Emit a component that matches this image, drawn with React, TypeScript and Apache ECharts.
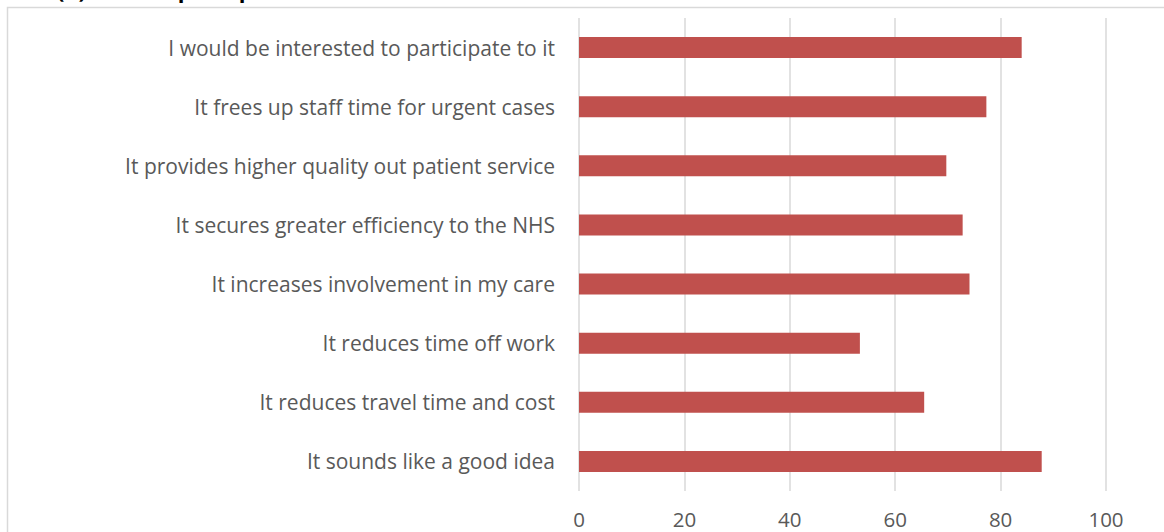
import React, { useEffect, useRef } from "react";
import * as echarts from "echarts";

const categories: string[] = [
  "I would be interested to participate to it",
  "It frees up staff time for urgent cases",
  "It provides higher quality out patient service",
  "It secures greater efficiency to the NHS",
  "It increases involvement in my care",
  "It reduces time off work",
  "It reduces travel time and cost",
  "It sounds like a good idea",
];
const values: number[] = [84.0, 77.3, 69.7, 72.8, 74.1, 53.3, 65.5, 87.8];
const xTicks = { min: 0, max: 100, interval: 20 };
const titleText = "(b) Patient perception";

const FONT = "'Open Sans', sans-serif";
const LABEL = "#595959";

export default function App() {
  const ref = useRef<HTMLDivElement>(null);
  useEffect(() => {
    document.body.style.margin = "0";
    const chart = echarts.init(ref.current!, null, { renderer: "svg" });
    chart.setOption({
      animation: false,
      backgroundColor: "#ffffff",
      grid: { left: 579, right: 58, top: 18, bottom: 41, containLabel: false },
      xAxis: {
        type: "value",
        min: xTicks.min,
        max: xTicks.max,
        interval: xTicks.interval,
        axisLine: { show: false },
        axisTick: { show: false },
        splitLine: { show: true, lineStyle: { color: "#D9D9D9", width: 1.5 } },
        axisLabel: {
          color: LABEL,
          fontFamily: FONT,
          fontSize: 20.5,
          lineHeight: 20,
          margin: 18,
        },
      },
      yAxis: {
        type: "category",
        data: categories,
        inverse: true,
        axisLine: { show: false },
        axisTick: { show: false },
        splitLine: { show: false },
        axisLabel: { color: LABEL, fontFamily: FONT, fontSize: 21, margin: 24 },
      },
      series: [
        {
          type: "bar",
          data: values,
          barWidth: 21,
          itemStyle: { color: "#C0504D" },
        },
      ],
      graphic: [
        {
          type: "rect",
          shape: { x: 7.5, y: 7.5, width: 1300, height: 700 },
          style: { fill: "none", stroke: "#D9D9D9", lineWidth: 1.5 },
          silent: true,
          z: -1,
        },
        {
          type: "text",
          x: 57,
          y: -11.5,
          style: {
            text: titleText,
            fill: "#000000",
            font: "bold 22px 'Open Sans', sans-serif",
            verticalAlign: "middle",
          },
          silent: true,
        },
      ],
    });
    return () => chart.dispose();
  }, []);
  return <div ref={ref} style={{ width: 1164, height: 532 }} />;
}
